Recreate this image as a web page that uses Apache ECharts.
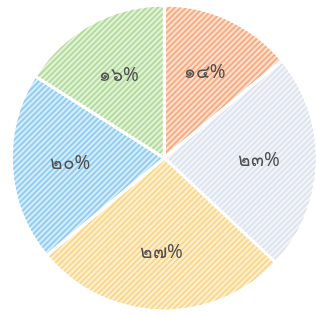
<!DOCTYPE html>
<html>
<head>
<meta charset="utf-8">
<script src="https://cdn.jsdelivr.net/npm/echarts@6/dist/echarts.min.js"></script>
<style>
  html, body { margin: 0; padding: 0; background: #fff; }
  #chart { width: 316px; height: 316px; }
</style>
</head>
<body>
<div id="chart"></div>
<script>
// slices, clockwise from 12 o'clock
var names = ['A', 'B', 'C', 'D', 'E']
var values = [14, 23, 27, 20, 16]
var labels = ['๑๔%', '๒๓%', '๒๗%', '๒๐%', '๑๖%']
var stripeColors = ['#f9ab82', '#dde4ee', '#fcd68a', '#93cdf3', '#b3dc9c']
var baseColors = ['#fde2d2', '#f3f5f9', '#fef1d6', '#d6edfb', '#e3f2da']

var myChart = echarts.init(document.getElementById('chart'))

var pieData = values.map(function (v, i) {
  return {
    value: v,
    name: names[i],
    itemStyle: {
      color: baseColors[i],
      // hatch: diagonal stripes
      decal: {
        symbol: 'rect',
        symbolSize: 1,
        dashArrayX: [1, 0],
        dashArrayY: [2, 2],
        rotation: -Math.PI / 4,
        color: stripeColors[i]
      }
    }
  }
})

var labelData = values.map(function (v, i) {
  return { value: v, name: labels[i] }
})

myChart.setOption({
  animation: false,
  series: [
    {
      type: 'pie',
      center: ['52%', '50%'],
      radius: [0, 153],
      startAngle: 90,
      clockwise: true,
      silent: true,
      itemStyle: { borderColor: '#fff', borderWidth: 3 },
      label: { show: false },
      labelLine: { show: false },
      data: pieData
    },
    {
      // transparent ring only used to place the labels
      type: 'pie',
      center: ['52%', '50%'],
      radius: [30, 153],
      startAngle: 90,
      clockwise: true,
      silent: true,
      itemStyle: { color: 'rgba(0,0,0,0)' },
      label: {
        show: true,
        position: 'inside',
        formatter: '{b}',
        color: '#505050',
        fontSize: 19,
        fontFamily: 'Noto Sans, DejaVu Sans, sans-serif'
      },
      labelLine: { show: false },
      data: labelData
    }
  ]
})
</script>
</body>
</html>
